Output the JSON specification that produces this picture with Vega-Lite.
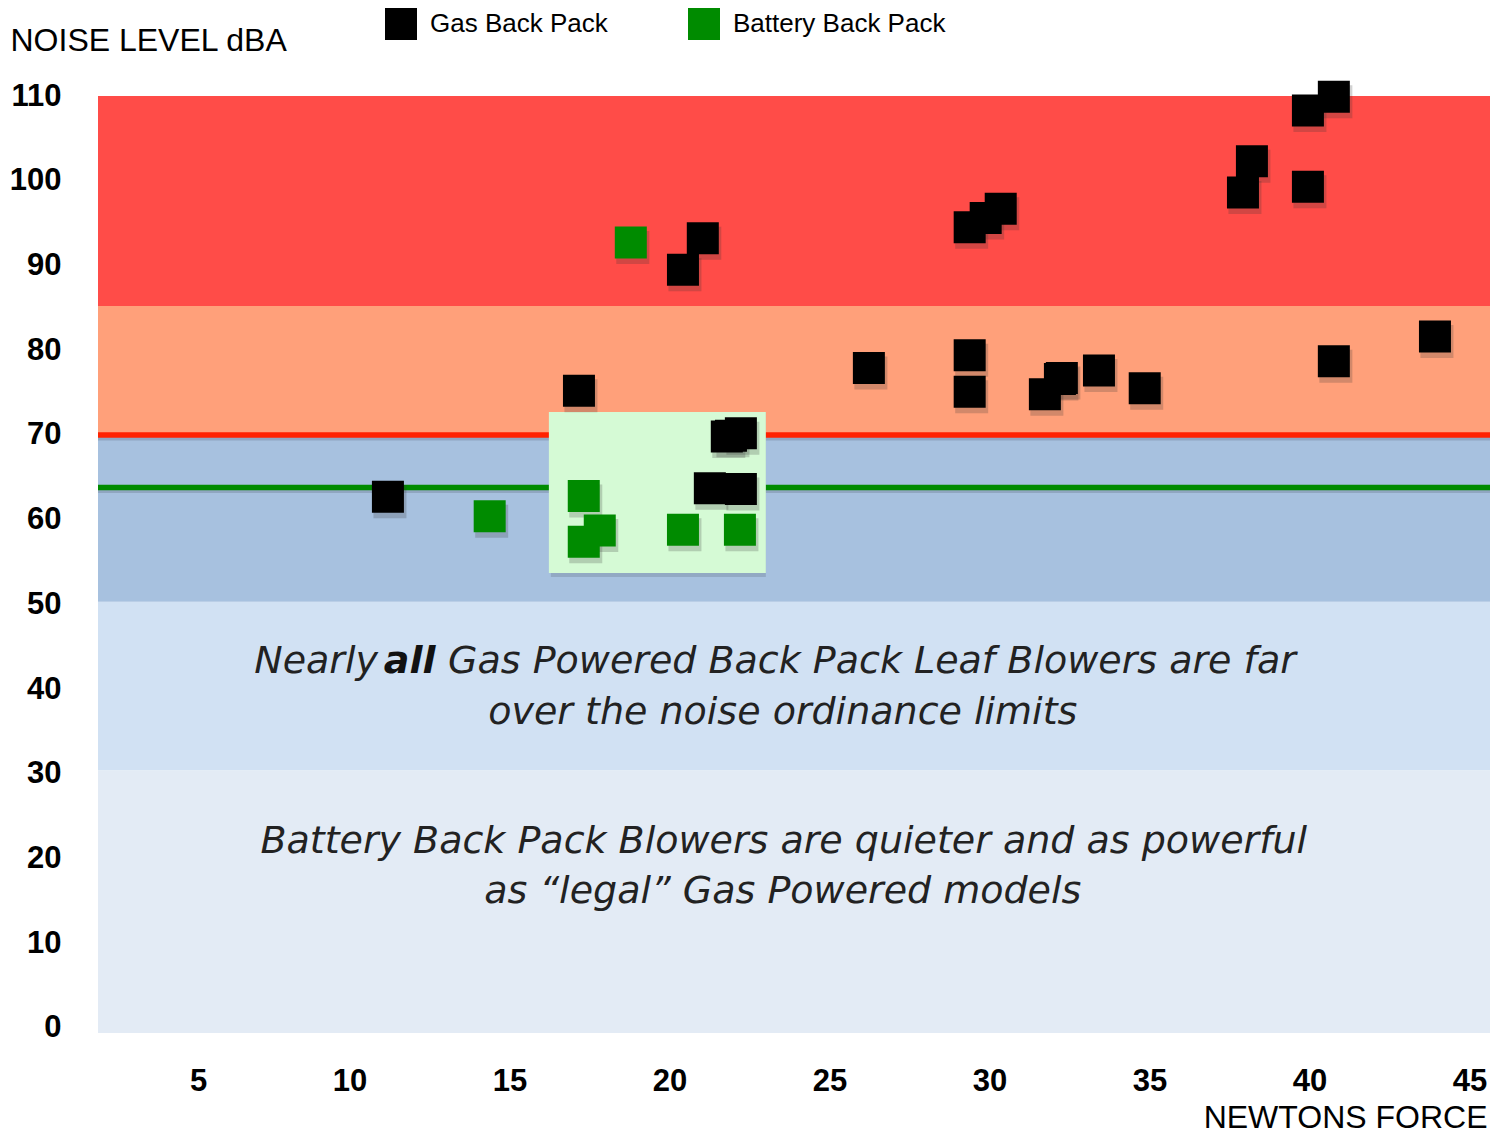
{
  "$schema": "https://vega.github.io/schema/vega-lite/v6.json",
  "width": 1392,
  "height": 937,
  "autosize": {"type": "none"},
  "padding": {"left": 98, "top": 96, "right": 11, "bottom": 101},
  "background": "white",
  "config": {
    "view": {"stroke": null},
    "axis": {"domain": false, "ticks": false, "tickSize": 0, "grid": false}
  },
  "datasets": {
    "bands": [
      {"zone": "z0", "lo": -0.6, "hi": 30.4},
      {"zone": "z1", "lo": 30.4, "hi": 50.3},
      {"zone": "z2", "lo": 50.3, "hi": 70},
      {"zone": "z3", "lo": 70, "hi": 85.2},
      {"zone": "z4", "lo": 85.2, "hi": 110}
    ],
    "box": [{"x1": 15.69, "x2": 22.47, "y1": 53.7, "y2": 72.7}],
    "points": [
      {"type": "Battery Back Pack", "n": 13.84, "db": 60.4},
      {"type": "Battery Back Pack", "n": 16.78, "db": 62.8},
      {"type": "Battery Back Pack", "n": 16.78, "db": 57.4},
      {"type": "Battery Back Pack", "n": 17.28, "db": 58.7},
      {"type": "Battery Back Pack", "n": 19.88, "db": 58.8},
      {"type": "Battery Back Pack", "n": 21.66, "db": 58.8},
      {"type": "Battery Back Pack", "n": 18.25, "db": 92.7},
      {"type": "Gas Back Pack", "n": 10.66, "db": 62.7},
      {"type": "Gas Back Pack", "n": 16.63, "db": 75.2},
      {"type": "Gas Back Pack", "n": 19.88, "db": 89.5},
      {"type": "Gas Back Pack", "n": 20.5, "db": 93.2},
      {"type": "Gas Back Pack", "n": 21.25, "db": 69.8},
      {"type": "Gas Back Pack", "n": 21.38, "db": 69.9},
      {"type": "Gas Back Pack", "n": 21.69, "db": 70.2},
      {"type": "Gas Back Pack", "n": 20.72, "db": 63.7},
      {"type": "Gas Back Pack", "n": 21.69, "db": 63.6},
      {"type": "Gas Back Pack", "n": 25.69, "db": 77.9},
      {"type": "Gas Back Pack", "n": 28.84, "db": 94.5},
      {"type": "Gas Back Pack", "n": 29.34, "db": 95.6},
      {"type": "Gas Back Pack", "n": 29.81, "db": 96.7},
      {"type": "Gas Back Pack", "n": 28.84, "db": 79.4},
      {"type": "Gas Back Pack", "n": 28.84, "db": 75.1},
      {"type": "Gas Back Pack", "n": 31.19, "db": 74.8},
      {"type": "Gas Back Pack", "n": 31.72, "db": 76.7},
      {"type": "Gas Back Pack", "n": 31.66, "db": 76.6},
      {"type": "Gas Back Pack", "n": 32.88, "db": 77.6},
      {"type": "Gas Back Pack", "n": 34.31, "db": 75.5},
      {"type": "Gas Back Pack", "n": 37.38, "db": 98.6},
      {"type": "Gas Back Pack", "n": 37.66, "db": 102.3},
      {"type": "Gas Back Pack", "n": 39.41, "db": 108.3},
      {"type": "Gas Back Pack", "n": 40.22, "db": 109.9},
      {"type": "Gas Back Pack", "n": 39.41, "db": 99.3},
      {"type": "Gas Back Pack", "n": 40.22, "db": 78.7},
      {"type": "Gas Back Pack", "n": 43.38, "db": 81.6}
    ],
    "limits": [
      {"kind": "gas", "db": 70},
      {"kind": "battery", "db": 63.8}
    ],
    "notes": [
      {"t": "over the noise ordinance limits", "x": 23.0, "y": 37.2},
      {"t": "Battery Back Pack Blowers are quieter and as powerful", "x": 23.03, "y": 22.0},
      {"t": "as “legal” Gas Powered models", "x": 23.0, "y": 16.0}
    ],
    "nearly": [{"t": "Nearly", "x": 10.35, "y": 43.2}],
    "rest": [{"t": "Gas Powered Back Pack Leaf Blowers are far", "x": 12.54, "y": 43.2}],
    "bold": [{"t": "all", "x": 11.34, "y": 43.2}]
  },
  "layer": [
    {
      "data": {"name": "bands"},
      "mark": {"type": "rect"},
      "encoding": {
        "y": {"field": "lo", "type": "quantitative", "scale": {"domain": [-0.6, 110], "nice": false, "zero": false}},
        "y2": {"field": "hi"},
        "color": {
          "field": "zone", "type": "nominal", "legend": null,
          "scale": {"domain": ["z0", "z1", "z2", "z3", "z4"], "range": ["#E3EBF5", "#D1E1F3", "#A7C1DF", "#FFA07A", "#FF4C48"]}
        }
      }
    },
    {
      "data": {"name": "limits"},
      "mark": {"type": "rule", "color": "#4A5868", "opacity": 0.25, "strokeWidth": 5},
      "encoding": {"y": {"field": "db", "type": "quantitative"}, "yOffset": {"value": 3}}
    },
    {
      "data": {"name": "limits"},
      "transform": [{"filter": "datum.kind === 'gas'"}],
      "mark": {"type": "rule", "color": "#FF2200", "strokeWidth": 5.5},
      "encoding": {"y": {"field": "db", "type": "quantitative"}}
    },
    {
      "data": {"name": "limits"},
      "transform": [{"filter": "datum.kind === 'battery'"}],
      "mark": {"type": "rule", "color": "#008B00", "strokeWidth": 5.5},
      "encoding": {"y": {"field": "db", "type": "quantitative"}}
    },
    {
      "data": {"name": "box"},
      "mark": {"type": "rect", "color": "#6E7F8E", "opacity": 0.35},
      "encoding": {
        "x": {"field": "x1", "type": "quantitative"},
        "x2": {"field": "x2"},
        "y": {"field": "y1", "type": "quantitative"},
        "y2": {"field": "y2"},
        "xOffset": {"value": 2},
        "yOffset": {"value": 4}
      }
    },
    {
      "data": {"name": "box"},
      "mark": {"type": "rect", "color": "#D5FAD5"},
      "encoding": {
        "x": {"field": "x1", "type": "quantitative"},
        "x2": {"field": "x2"},
        "y": {"field": "y1", "type": "quantitative"},
        "y2": {"field": "y2"}
      }
    },
    {
      "data": {"name": "points"},
      "mark": {"type": "square", "size": 1089, "opacity": 0.22, "filled": true, "strokeWidth": 0, "color": "#333"},
      "encoding": {
        "x": {"field": "n", "type": "quantitative"},
        "y": {"field": "db", "type": "quantitative"},
        "xOffset": {"value": 2},
        "yOffset": {"value": 5}
      }
    },
    {
      "data": {"name": "points"},
      "mark": {"type": "square", "size": 1024, "opacity": 1, "filled": true, "strokeWidth": 0},
      "encoding": {
        "x": {
          "field": "n", "type": "quantitative",
          "scale": {"domain": [1.6, 45.1], "nice": false, "zero": false},
          "axis": {
            "values": [5, 10, 15, 20, 25, 30, 35, 40, 45],
            "labelAlign": "right", "labelBaseline": "alphabetic", "labelPadding": 57,
            "labelFont": "Liberation Sans", "labelFontSize": 31, "labelFontWeight": "bold", "labelColor": "#000",
            "title": "NEWTONS FORCE", "titleX": 1389, "titleY": 94, "titleAlign": "right", "titleBaseline": "alphabetic",
            "titleFont": "Liberation Sans", "titleFontSize": 32, "titleFontWeight": "normal", "titleColor": "#000"
          }
        },
        "y": {
          "field": "db", "type": "quantitative",
          "scale": {"domain": [-0.6, 110], "nice": false, "zero": false},
          "axis": {
            "values": [0, 10, 20, 30, 40, 50, 60, 70, 80, 90, 100, 110],
            "labelAlign": "right", "labelBaseline": "middle", "labelPadding": 37,
            "labelFont": "Liberation Sans", "labelFontSize": 31, "labelFontWeight": "bold", "labelColor": "#000",
            "title": "NOISE LEVEL dBA", "titleAngle": 0, "titleX": -88, "titleY": -46, "titleAlign": "left", "titleBaseline": "alphabetic",
            "titleFont": "Liberation Sans", "titleFontSize": 32, "titleFontWeight": "normal", "titleColor": "#000"
          }
        },
        "color": {
          "field": "type", "type": "nominal",
          "scale": {"domain": ["Gas Back Pack", "Battery Back Pack"], "range": ["#000000", "#008B00"]},
          "legend": {
            "orient": "none", "legendX": 287, "legendY": -88, "direction": "horizontal", "title": null,
            "symbolType": "square", "symbolSize": 1024, "symbolStrokeWidth": 0, "symbolOpacity": 1,
            "labelFont": "Liberation Sans", "labelFontSize": 26, "labelColor": "#000", "labelOffset": 13, "labelLimit": 500,
            "columnPadding": 80, "padding": 0
          }
        }
      }
    },
    {
      "data": {"name": "notes"},
      "mark": {"type": "text", "font": "DejaVu Sans", "fontWeight": 200, "fontStyle": "italic", "fontSize": 38, "align": "center", "baseline": "middle", "color": "#222"},
      "encoding": {
        "x": {"field": "x", "type": "quantitative"},
        "y": {"field": "y", "type": "quantitative"},
        "text": {"field": "t"}
      }
    },
    {
      "data": {"name": "nearly"},
      "mark": {"type": "text", "font": "DejaVu Sans", "fontWeight": 200, "fontStyle": "italic", "fontSize": 38, "align": "right", "baseline": "middle", "color": "#222"},
      "encoding": {
        "x": {"field": "x", "type": "quantitative"},
        "y": {"field": "y", "type": "quantitative"},
        "text": {"field": "t"}
      }
    },
    {
      "data": {"name": "rest"},
      "mark": {"type": "text", "font": "DejaVu Sans", "fontWeight": 200, "fontStyle": "italic", "fontSize": 38, "align": "left", "baseline": "middle", "color": "#222"},
      "encoding": {
        "x": {"field": "x", "type": "quantitative"},
        "y": {"field": "y", "type": "quantitative"},
        "text": {"field": "t"}
      }
    },
    {
      "data": {"name": "bold"},
      "mark": {"type": "text", "font": "DejaVu Sans", "fontWeight": "bold", "fontStyle": "italic", "fontSize": 38, "align": "center", "baseline": "middle", "color": "#111"},
      "encoding": {
        "x": {"field": "x", "type": "quantitative"},
        "y": {"field": "y", "type": "quantitative"},
        "text": {"field": "t"}
      }
    }
  ],
  "resolve": {"scale": {"color": "independent"}}
}
